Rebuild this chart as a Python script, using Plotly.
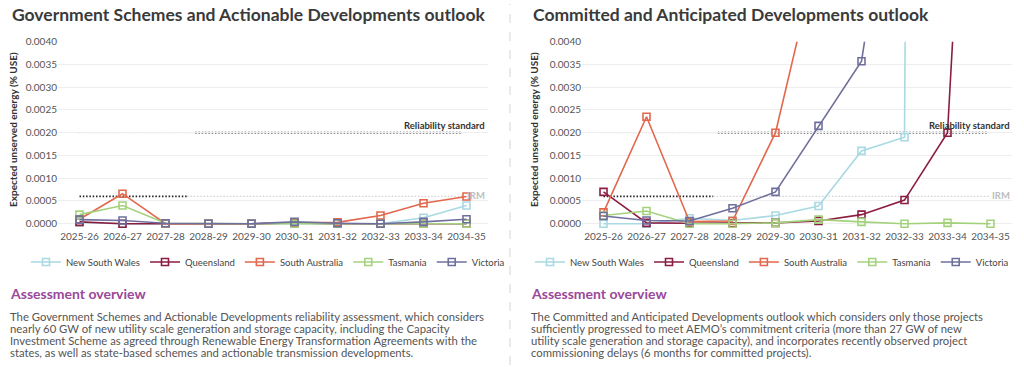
import plotly.graph_objects as go

# ---------------- data ----------------
categories = ["2025-26", "2026-27", "2027-28", "2028-29", "2029-30",
              "2030-31", "2031-32", "2032-33", "2033-34", "2034-35"]
regions = ["New South Wales", "Queensland", "South Australia", "Tasmania", "Victoria"]

# Government Schemes and Actionable Developments outlook (% USE)
nsw_gov = [0.00003, 0.0, 0.0, 0.0, 0.0, 0.0, 0.0, 0.0, 0.00013, 0.0004]
qld_gov = [0.00004, 0.0, 0.0, 0.0, 0.0, 0.00002, 0.0, 0.0, 0.0, 0.0]
sa_gov = [0.0001, 0.00066, 0.0, 0.0, 0.0, 0.00002, 0.00003, 0.00018, 0.00045, 0.0006]
tas_gov = [0.0002, 0.0004, 0.00001, 0.0, 0.0, 0.0, 0.0, 0.0, 0.0, 0.0]
vic_gov = [0.00009, 0.00007, 0.00001, 0.0, 0.0, 0.00004, 0.00001, 0.0, 0.00004, 0.0001]

# Committed and Anticipated Developments outlook (% USE)
nsw_com = [0.0, 0.0, 0.00012, 0.00007, 0.00018, 0.00039, 0.0016, 0.0019, 0.15, 0.3]
qld_com = [0.0007, 0.00002, 0.00001, 0.00001, 0.00002, 0.00006, 0.0002, 0.00052, 0.002, 0.019]
sa_com = [0.00025, 0.00235, 0.00005, 0.00006, 0.002, 0.006, 0.012, 0.02, 0.03, 0.04]
tas_com = [0.00018, 0.00028, 0.0, 0.0, 0.00002, 0.00009, 0.00004, 0.0, 0.00002, 0.0]
vic_com = [0.00017, 0.00007, 0.00006, 0.00034, 0.0007, 0.00215, 0.00357, 0.0097, 0.015, 0.02]

reliability_standard = 0.002
irm = 0.0006

gov_series = [nsw_gov, qld_gov, sa_gov, tas_gov, vic_gov]
com_series = [nsw_com, qld_com, sa_com, tas_com, vic_com]

titles = ["Government Schemes and Actionable Developments outlook",
          "Committed and Anticipated Developments outlook"]
y_title = "Expected unserved energy (% USE)"
overview_heading = "Assessment overview"
overview_left = [
    "The Government Schemes and Actionable Developments reliability assessment, which considers",
    "nearly 60 GW of new utility scale generation and storage capacity, including the Capacity",
    "Investment Scheme as agreed through Renewable Energy Transformation Agreements with the",
    "states, as well as state-based schemes and actionable transmission developments.",
]
overview_right = [
    "The Committed and Anticipated Developments outlook which considers only those projects",
    "sufficiently progressed to meet AEMO\u2019s commitment criteria (more than 27 GW of new",
    "utility scale generation and storage capacity), and incorporates recently observed project",
    "commissioning delays (6 months for committed projects).",
]

# ---------------- style ----------------
W, H = 1024, 367
FONT = "Lato"
colors = ["#a9d9e2", "#8b1d41", "#e2674c", "#a4d27c", "#6f6f9e"]
DOT = "1.5px,1.8px"


def px_x(p):
    return p / W


def px_y(p):
    return 1 - p / H


fig = go.Figure()

for i, (name, col) in enumerate(zip(regions, colors)):
    for series, xa, ya, leg in ((gov_series, "x", "y", "legend"),
                                (com_series, "x2", "y2", "legend2")):
        fig.add_trace(go.Scatter(
            x=categories, y=series[i], name=name, mode="lines+markers",
            xaxis=xa, yaxis=ya, legend=leg,
            line=dict(color=col, width=1.6),
            marker=dict(symbol="square-open", size=7, color=col, line=dict(width=1.6)),
            hoverinfo="x+y+name",
        ))

ydom = [px_y(229.2), px_y(41.7)]
axis_common = dict(showline=False, zeroline=False, ticks="", automargin=False,
                   tickfont=dict(family=FONT, size=10, color="#555555"))
fig.update_layout(
    xaxis=dict(domain=[px_x(58), px_x(488)], type="category", range=[-0.5, 9.5],
               showgrid=False, anchor="y", **axis_common),
    yaxis=dict(domain=ydom, range=[-0.00012, 0.004], tick0=0, dtick=0.0005,
               tickformat=".4f", gridcolor="#eeeeee", gridwidth=1, anchor="x",
               **axis_common),
    xaxis2=dict(domain=[px_x(582), px_x(1012)], type="category", range=[-0.5, 9.5],
                showgrid=False, anchor="y2", **axis_common),
    yaxis2=dict(domain=ydom, range=[-0.00012, 0.004], tick0=0, dtick=0.0005,
                tickformat=".4f", gridcolor="#eeeeee", gridwidth=1, anchor="x2",
                **axis_common),
)

# reference lines (light full-length + dark partial segments)
shapes = []
for xr, yr, rs_dark, irm_dark in (("x", "y", (2.69, 8.9), (0, 2.5)),
                                  ("x2", "y2", (2.66, 8.94), (0, 2.55))):
    shapes.append(dict(type="line", xref=xr, yref=yr, x0=-0.02, x1=9.0,
                       y0=reliability_standard, y1=reliability_standard,
                       line=dict(color="#cccccc", width=1.2, dash=DOT), layer="below"))
    shapes.append(dict(type="line", xref=xr, yref=yr, x0=rs_dark[0], x1=rs_dark[1],
                       y0=reliability_standard, y1=reliability_standard,
                       line=dict(color="#222222", width=1.7, dash=DOT), layer="below"))
    shapes.append(dict(type="line", xref=xr, yref=yr, x0=irm_dark[1], x1=9.0,
                       y0=irm, y1=irm,
                       line=dict(color="#d2d2d2", width=1.2, dash=DOT), layer="below"))
    shapes.append(dict(type="line", xref=xr, yref=yr, x0=irm_dark[0], x1=irm_dark[1],
                       y0=irm, y1=irm,
                       line=dict(color="#222222", width=1.7, dash=DOT), layer="below"))
# panel separator
shapes.append(dict(type="line", xref="paper", yref="paper", x0=px_x(510), x1=px_x(510),
                   y0=px_y(365), y1=px_y(4), line=dict(color="#d4d4d4", width=1, dash="dash")))
fig.update_layout(shapes=shapes)

ann = []
for k, (left, right) in enumerate(((10, 487), (531, 1012))):
    ann.append(dict(text=f"<b>{titles[k]}</b>", x=px_x(left), y=px_y(14), xref="paper",
                    yref="paper", xanchor="left", yanchor="middle", showarrow=False,
                    font=dict(family=FONT, size=17.5, color="#3a3a3a")))
    ann.append(dict(text=f"<b>{y_title}</b>", x=px_x(left + 3), y=px_y(130), xref="paper",
                    yref="paper", xanchor="center", yanchor="middle", textangle=-90,
                    showarrow=False, font=dict(family=FONT, size=10, color="#333333")))
    ann.append(dict(text="<b>Reliability standard</b>", x=px_x(right), y=px_y(125),
                    xref="paper", yref="paper", xanchor="right", yanchor="middle",
                    showarrow=False, font=dict(family=FONT, size=9.5, color="#333333")))
    ann.append(dict(text="<b>IRM</b>", x=px_x(right), y=px_y(195),
                    xref="paper", yref="paper", xanchor="right", yanchor="middle",
                    showarrow=False, font=dict(family=FONT, size=9.5, color="#bdbdbd")))
    ann.append(dict(text=f"<b>{overview_heading}</b>", x=px_x(left - 2), y=px_y(293),
                    xref="paper", yref="paper", xanchor="left", yanchor="middle",
                    showarrow=False, font=dict(family=FONT, size=14, color="#9a4899")))
    body = overview_left if k == 0 else overview_right
    for j, line in enumerate(body):
        ann.append(dict(text=line, x=px_x(left - 2), y=px_y(316 + 12.3 * j),
                        xref="paper", yref="paper", xanchor="left", yanchor="middle",
                        showarrow=False, font=dict(family=FONT, size=11.3, color="#555555")))
fig.update_layout(annotations=ann)

leg_common = dict(orientation="h", yanchor="middle",
                  font=dict(family=FONT, size=9.5, color="#444444"),
                  bgcolor="rgba(0,0,0,0)", itemwidth=30, tracegroupgap=0)
fig.update_layout(
    legend=dict(x=px_x(268), y=px_y(262), xanchor="center", **leg_common),
    legend2=dict(x=px_x(1014), y=px_y(262), xanchor="right", **leg_common),
    width=W, height=H, margin=dict(l=0, r=0, t=0, b=0, autoexpand=False),
    paper_bgcolor="white", plot_bgcolor="white",
    font=dict(family=FONT), showlegend=True,
)

fig.write_html("out.html", config={"displayModeBar": False},
               post_script="document.body.style.margin='0px';")
